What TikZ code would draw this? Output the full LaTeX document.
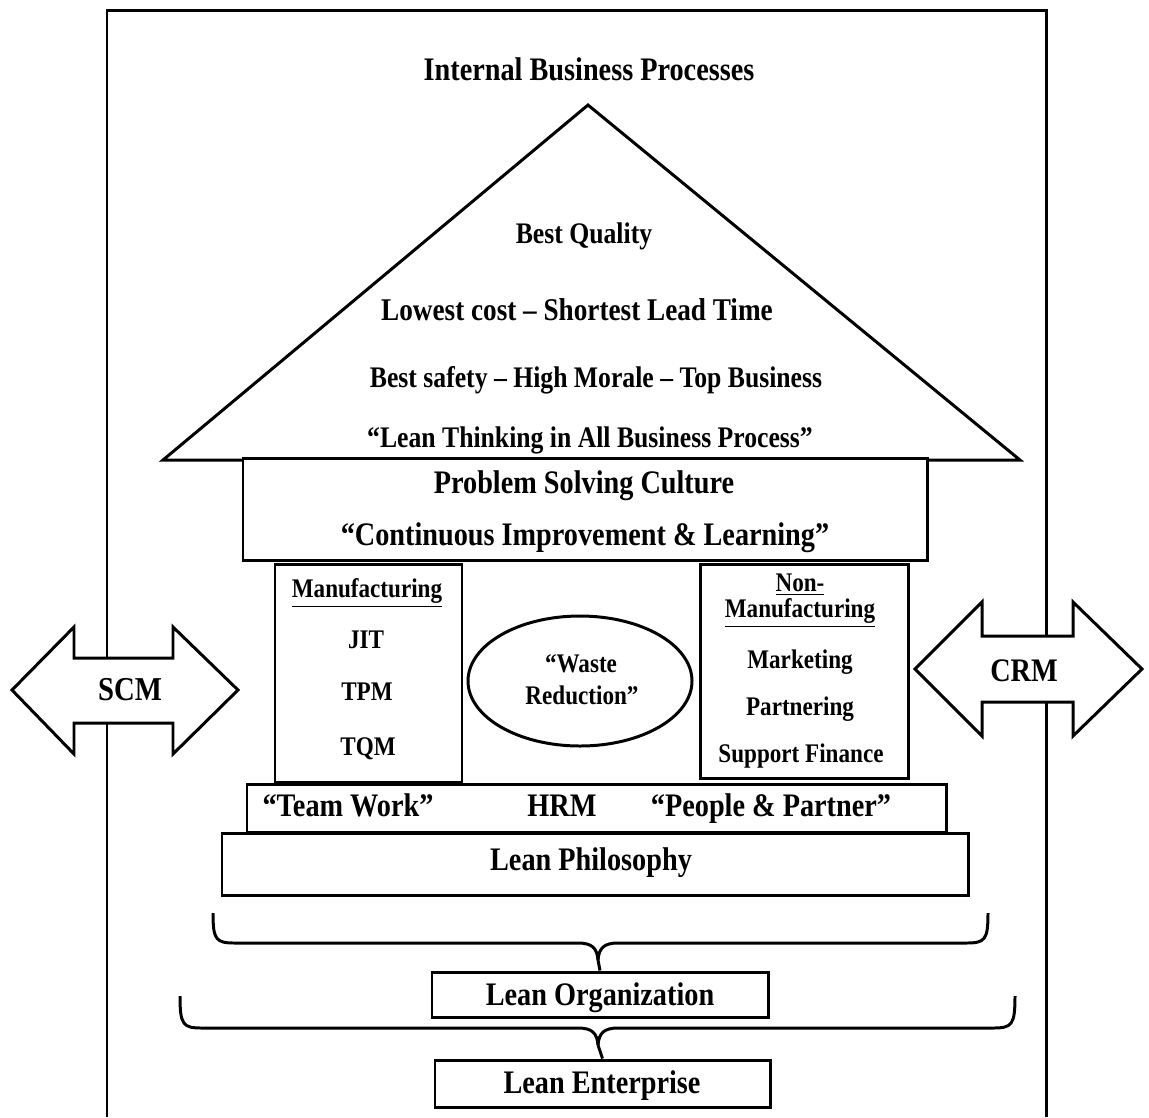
\documentclass[tikz,border=0pt]{standalone}
\usepackage{fontspec}
\setmainfont{Liberation Serif}[FakeStretch=0.86]
\usetikzlibrary{fit}
\tikzset{
  ln/.style={line width=1.7pt},
  box/.style={draw, line width=1.7pt, inner sep=0pt, fill=white},
  txt/.style={inner sep=0pt, text height=0.75em, text depth=0.09em, yshift=-2.2pt},
  big/.style={txt, font=\fontsize{18.7}{21}\selectfont\bfseries},
  mid/.style={txt, font=\fontsize{17}{19}\selectfont\bfseries},
  sml/.style={txt, font=\fontsize{15.3}{17}\selectfont\bfseries},
}
\begin{document}
\begin{tikzpicture}[x=0.02cm,y=-0.02cm]
\useasboundingbox (0,0) rectangle (1149,1117);
% outer frame
\draw[ln] (107,1117) -- (107,10) -- (1046,10) -- (1046,1117);
% roof
\draw[ln, line join=miter] (163,460) -- (588,105) -- (1020,460) -- cycle;
\node[big] (title) at (589,71) {Internal Business Processes};
\node[mid] (bq) at (584,234) {Best Quality};
\node[mid, font=\fontsize{18}{20}\selectfont\bfseries] (lc) at (577,311) {Lowest cost – Shortest Lead Time};
\node[mid] (bs) at (596,378) {Best safety – High Morale – Top Business};
\node[mid] (lt) at (590,438) {“Lean Thinking in All Business Process”};
% problem solving box
\node[box, fit={(243,458) (927,560)}] (prob) {};
\node[big] (psc) at (584,484) {Problem Solving Culture};
\node[big] (cil) at (585,536) {“Continuous Improvement \& Learning”};
% pillars
\node[box, fit={(275,564) (462,782)}] (manu) {};
\node[sml] (mt) at (367,588) {\underline{Manufacturing}};
\node[sml] (jit) at (366,639) {JIT};
\node[sml] (tpm) at (367,691) {TPM};
\node[sml] (tqm) at (368,746) {TQM};
\node[box, fit={(700,564) (908,778)}] (nonm) {};
\node[sml] (nt1) at (800,582) {\underline{Non-}};
\node[sml] (nt2) at (800,608) {\underline{Manufacturing}};
\node[sml] (mk) at (800,659) {Marketing};
\node[sml] (pt) at (800,706) {Partnering};
\node[sml] (sf) at (801,753) {Support Finance};
% waste reduction
\draw[ln] (580,681) ellipse [x radius=112, y radius=65];
\node[sml] (w1) at (581,663) {“Waste};
\node[sml] (w2) at (582,695) {Reduction”};
% HRM strip
\node[box, fit={(247,784) (946,832)}] (hrm) {};
\node[big] (tw) at (348,807) {“Team Work”};
\node[big] (hr) at (562,807) {HRM};
\node[big] (pp) at (771,807) {“People \& Partner”};
% lean philosophy
\node[box, fit={(222,833) (968,895)}] (phil) {};
\node[big] at (591,861) {Lean Philosophy};
% lean organization / enterprise
\node[box, fit={(432,972) (768,1017)}] (lo) {};
\node[big] at (600,996) {Lean Organization};
\node[box, fit={(435,1060) (770,1107)}] (le) {};
\node[big] at (602,1084) {Lean Enterprise};
% braces
\coordinate (b1) at (598,960);
\draw[ln, line join=round] (213,913) .. controls (213,940) and (216,943) .. (235,943) -- (578,943) .. controls (592,943) and (597,948) .. (b1);
\draw[ln, line join=round] (988,913) .. controls (988,940) and (985,943) .. (966,943) -- (618,943) .. controls (604,943) and (599,948) .. (b1);
\draw[ln] (b1) -- (lo.north);
\coordinate (b2) at (598,1045);
\draw[ln, line join=round] (180,996) .. controls (180,1025) and (183,1028) .. (202,1028) -- (578,1028) .. controls (592,1028) and (597,1033) .. (b2);
\draw[ln, line join=round] (1015,996) .. controls (1015,1025) and (1012,1028) .. (993,1028) -- (618,1028) .. controls (604,1028) and (599,1033) .. (b2);
\draw[ln] (b2) -- (le.north);
% SCM arrow
\draw[ln, fill=white, line join=miter] (12,690) -- (74,627) -- (74,658) -- (173,658) -- (173,627) -- (238,690) -- (173,754) -- (173,723) -- (74,723) -- (74,754) -- cycle;
\node[big, font=\fontsize{19}{21}\selectfont\bfseries] (scm) at (130,691) {SCM};
% CRM arrow
\draw[ln, fill=white, line join=miter] (915,669) -- (982,602) -- (982,636) -- (1073,636) -- (1073,602) -- (1142,669) -- (1073,736) -- (1073,702) -- (982,702) -- (982,736) -- cycle;
\node[big] (crm) at (1024,672) {CRM};
\end{tikzpicture}
\end{document}
